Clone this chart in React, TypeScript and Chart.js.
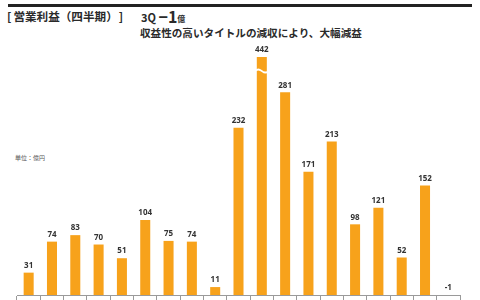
import React, { useEffect, useRef } from "react";
import { Chart, registerables } from "chart.js";

Chart.register(...registerables);

const categories: string[] = [
  "Q1", "Q2", "Q3", "Q4", "Q5", "Q6", "Q7", "Q8", "Q9", "Q10",
  "Q11", "Q12", "Q13", "Q14", "Q15", "Q16", "Q17", "Q18", "Q19",
];
const values: number[] = [31, 74, 83, 70, 51, 104, 75, 74, 11, 232, 442, 281, 171, 213, 98, 121, 52, 152, -1];
const yMax = 330; // axis is broken above this value
const title = "営業利益（四半期）";
const subtitle = "収益性の高いタイトルの減収により、大幅減益";
const unitLabel = "単位：億円";

const BAR = "#F7A21B";

const labelPlugin = {
  id: "barLabels",
  afterDatasetsDraw(chart: any) {
    const ctx = chart.ctx;
    const meta = chart.getDatasetMeta(0);
    const area = chart.chartArea;
    ctx.save();
    meta.data.forEach((bar: any, i: number) => {
      const v = values[i];
      const top = Math.max(Math.min(bar.y, bar.base), area.top);
      if (v > yMax) {
        const w = bar.width + 4;
        const y0 = area.top + 13;
        ctx.fillStyle = "#ffffff";
        ctx.beginPath();
        ctx.moveTo(bar.x - w / 2, y0);
        ctx.quadraticCurveTo(bar.x - w / 4, y0 - 3, bar.x, y0);
        ctx.quadraticCurveTo(bar.x + w / 4, y0 + 3, bar.x + w / 2, y0);
        ctx.lineTo(bar.x + w / 2, y0 + 2);
        ctx.quadraticCurveTo(bar.x + w / 4, y0 + 5, bar.x, y0 + 2);
        ctx.quadraticCurveTo(bar.x - w / 4, y0 - 1, bar.x - w / 2, y0 + 2);
        ctx.closePath();
        ctx.fill();
      }
      ctx.fillStyle = "#333333";
      ctx.font = "bold 8px 'Noto Sans', sans-serif";
      ctx.textAlign = "center";
      ctx.textBaseline = "bottom";
      ctx.fillText(String(v), bar.x, top - 3);
    });
    ctx.restore();
  },
};

export default function App() {
  const ref = useRef<HTMLCanvasElement | null>(null);
  useEffect(() => {
    if (!ref.current) return;
    const chart = new Chart(ref.current, {
      type: "bar",
      data: {
        labels: categories,
        datasets: [
          {
            data: values,
            backgroundColor: BAR,
            barPercentage: 0.86,
            categoryPercentage: 0.5,
          },
        ],
      },
      options: {
        animation: false,
        responsive: false,
        maintainAspectRatio: false,
        layout: { padding: { left: 17, right: 20, top: 57, bottom: 0 } },
        plugins: {
          legend: { display: false },
          tooltip: { enabled: false },
        },
        scales: {
          x: {
            offset: true,
            ticks: { display: false },
            border: { display: true, color: "#9a9a9a", width: 1 },
            grid: {
              offset: true,
              drawOnChartArea: false,
              drawTicks: true,
              tickLength: 5,
              color: "#9a9a9a",
            },
          },
          y: {
            display: false,
            min: 0,
            max: yMax,
          },
        },
      },
      plugins: [labelPlugin],
    });
    return () => chart.destroy();
  }, []);

  const textStyle: React.CSSProperties = {
    position: "absolute",
    fontFamily: "'Noto Sans CJK JP', sans-serif",
    fontWeight: 700,
    color: "#2a2a2a",
    whiteSpace: "nowrap",
    lineHeight: 1,
  };

  return (
    <div style={{ position: "fixed", left: 0, top: 0, width: 480, height: 300, background: "#fff", overflow: "hidden" }}>
      <div style={{ position: "absolute", left: 8, top: 4, width: 464, height: 3, background: "#222" }} />
      <div style={{ ...textStyle, left: 7, top: 11, fontSize: 11.6, display: "flex" }}>
        <span>[</span>
        <span style={{ marginLeft: 2 }}>{title}</span>
        <span style={{ marginLeft: 1 }}>]</span>
      </div>
      <div style={{ ...textStyle, left: 141, top: 9, fontSize: 11, display: "flex", alignItems: "flex-end" }}>
        <span>3Q&nbsp;</span>
        <span style={{ fontSize: 16, lineHeight: 0.9 }}>−1</span>
        <span style={{ fontSize: 8 }}>億</span>
      </div>
      <div style={{ ...textStyle, left: 140, top: 28, fontSize: 10.6 }}>{subtitle}</div>
      <div style={{ ...textStyle, left: 15, top: 155, fontSize: 6, fontWeight: 400, color: "#555" }}>{unitLabel}</div>
      <canvas ref={ref} width={480} height={300} style={{ position: "absolute", left: 0, top: 0, width: 480, height: 300 }} />
    </div>
  );
}
